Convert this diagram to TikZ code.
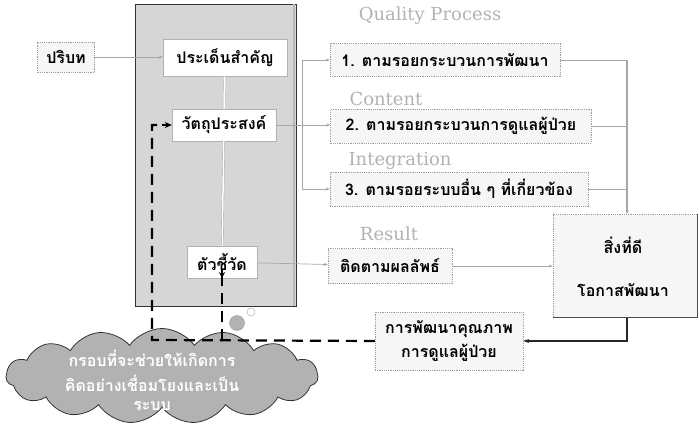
\documentclass[tikz,border=0pt]{standalone}
\usepackage{fontspec}
\setmainfont{Liberation Serif}
\newfontfamily\thai[Script=Thai]{Loma}
\newfontfamily\tagfont{DejaVu Serif}
\usetikzlibrary{shapes.symbols,arrows.meta}
\begin{document}
\begin{tikzpicture}[x=1pt,y=-1pt,
  thaitxt/.style={font=\thai\bfseries\fontsize{16}{20}\selectfont},
  box/.style={thaitxt, draw=gray!75, dash pattern=on 1.2pt off 1pt, fill=gray!7,
    inner sep=1pt, align=center},
  inbox/.style={thaitxt, draw=gray!60, fill=white, inner sep=1pt},
  cloudline/.style={thaitxt, text=white, inner sep=0pt},
  tag/.style={font=\tagfont\fontsize{18}{20}\selectfont, text=gray!60},
  conn/.style={draw=gray!70, line width=0.7pt},
  tip/.style={-{Stealth[length=4pt,width=3pt]}},
  dashline/.style={line width=2.2pt, dash pattern=on 11pt off 7pt, draw=black},
  col/.style={draw=black!80, fill=gray!32, line width=0.8pt}]
\useasboundingbox (0,0) rectangle (699,425);

% central column
\node[col, minimum width=161, minimum height=302, inner sep=0pt] (column) at (215.5,155) {};
\draw[gray!55, line width=2pt] ([xshift=-2pt]column.north east) -- ([xshift=-2pt]column.south east);

% cloud
\node[cloud, cloud puffs=15, cloud puff arc=110, aspect=3.3, draw=black!80, fill=gray!60,
  minimum width=312, minimum height=95, inner sep=0pt, line width=0.8pt] (cloud) at (162,376) {};
\node[cloudline] (cl1) at (152,358) {กรอบที่จะช่วยให้เกิดการ};
\node[cloudline] (cl2) at (152,383) {คิดอย่างเชื่อมโยงและเป็น};
\node[cloudline] (cl3) at (152,406) {ระบบ};

% left nodes
\node[box, minimum width=57, minimum height=30] (context) at (66,57) {ปริบท};
\node[inbox, minimum width=124, minimum height=37] (issue) at (225,58) {ประเด็นสำคัญ};
\node[inbox, minimum width=104, minimum height=32] (objective) at (224,125) {วัตถุประสงค์};
\node[inbox, minimum width=70, minimum height=32] (indicator) at (222,262) {ตัวชี้วัด};

% gray labels
\node[tag] (tqp) at (430,16) {Quality Process};
\node[tag] (tct) at (386,99) {Content};
\node[tag] (tin) at (400,161) {Integration};
\node[tag] (tre) at (389,234) {Result};

% right boxes
\node[box, minimum width=230, minimum height=33] (b1) at (445,60) {1. ตามรอยกระบวนการพัฒนา};
\node[box, minimum width=261, minimum height=34] (b2) at (461,126) {2. ตามรอยกระบวนการดูแลผู้ป่วย};
\node[box, minimum width=258, minimum height=34] (b3) at (459,189) {3. ตามรอยระบบอื่น ๆ ที่เกี่ยวข้อง};
\node[box, minimum width=124, minimum height=35] (follow) at (390,266) {ติดตามผลลัพธ์};
\node[box, minimum width=144, minimum height=103] (good) at (625,266) {};
\node[thaitxt] (goodtxt) at (623,245) {สิ่งที่ดี};
\node[thaitxt] (opptxt) at (623,290) {โอกาสพัฒนา};
\draw[black!70, line width=1.2pt] (good.north east) -- (good.south east) -- (good.south west);
\node[box, minimum width=148, minimum height=58, font=\thai\bfseries\fontsize{16}{24}\selectfont] (improve) at (449,341) {การพัฒนาคุณภาพ\\การดูแลผู้ป่วย};

% connectors
\draw[conn, tip] (context.east) -- (context.east -| issue.west);
\draw[gray!70, double, double distance=2pt] (issue) -- (objective);
\draw[gray!70, double, double distance=1.5pt] (objective) -- (indicator);

\coordinate (brk) at (302,125);
\draw[conn] (objective.east) -- (brk);
\draw[conn, tip] (brk) |- (b1.west);
\draw[conn, tip] (brk) -- (brk -| b2.west);
\draw[conn, tip] (brk) |- (b3.west);

\coordinate (rj) at (627,60);
\draw[conn] (b1.east) -- (rj);
\draw[conn] (b2.east) -- (b2.east -| rj);
\draw[conn] (b3.east) -- (b3.east -| rj);
\draw[conn, line width=1.2pt, tip] (rj) -- (rj |- good.north);

\draw[conn, tip] (indicator) -- (follow);
\draw[conn, tip] (follow) -- (good);
\draw[black!85, line width=1.2pt, -{Stealth[length=6pt,width=4pt]}] (good.south -| rj) |- (improve.east);

% dashed feedback lines
\coordinate (dl) at (152,340);
\coordinate (dm) at (222,340);
\draw[dashline] (improve.west) -- (dl) -- (dl |- objective) -- ([xshift=-9pt]objective.west);
\draw[black, -{Stealth[length=7pt,width=6pt]}, line width=1.5pt] ([xshift=-10pt]objective.west) -- (objective.west);
\draw[dashline] (dm) -- ([yshift=8pt]indicator.south);
\draw[black, -{Stealth[length=6pt,width=6pt]}, line width=1.5pt] ([yshift=9pt]indicator.south) -- (indicator.south);

% thought bubbles
\node[circle, fill=gray!60, draw=gray!80, minimum size=15pt, inner sep=0pt] (bub1) at (237,323) {};
\node[circle, draw=gray!70, fill=white, minimum size=8pt, inner sep=0pt] (bub2) at (251,312) {};
\end{tikzpicture}
\end{document}
